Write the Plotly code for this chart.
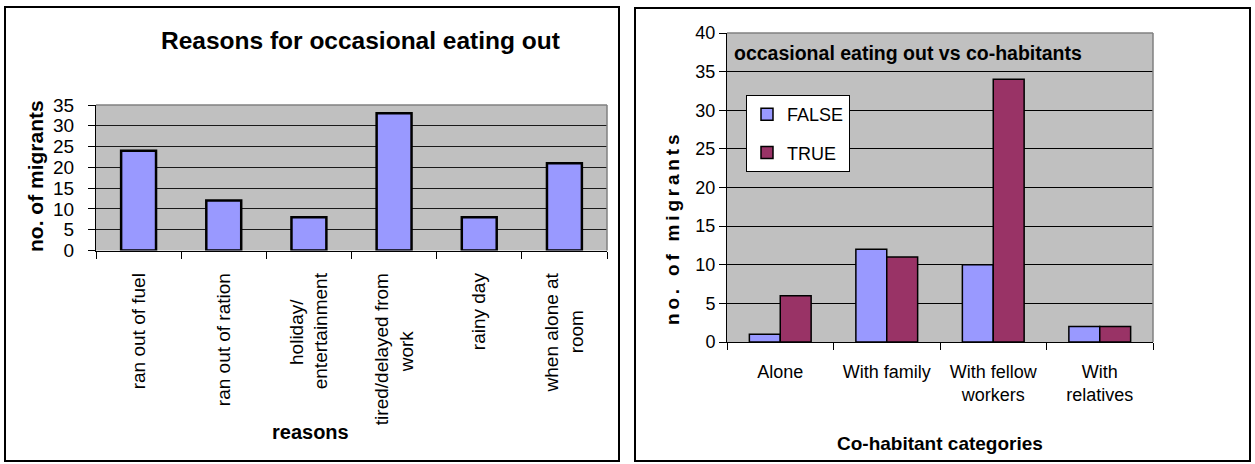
import plotly.graph_objects as go

W, H = 1255, 464

NB = "\u00a0"

# Left chart: reasons for occasional eating out
# (trailing no-break spaces centre the shorter line of a two-line label)
reasons = ["ran out of fuel", "ran out of ration",
           "holiday/" + NB * 5 + "<br>entertainment",
           "tired/delayed from<br>work" + NB * 11,
           "rainy day",
           "when alone at<br>room" + NB * 7]
reason_counts = [24, 12, 8, 33, 8, 21]

# Right chart: occasional eating out vs co-habitants
cohab = ["Alone", "With family", "With fellow<br>workers", "With<br>relatives"]
false_counts = [1, 12, 10, 2]
true_counts = [6, 11, 34, 2]

SANS = "Liberation Sans, Arial, sans-serif"
GRID = "#1a1a1a"


def px_x(v):
    return v / W


def px_y(v):
    return 1 - v / H


fig = go.Figure()

fig.add_trace(go.Bar(
    x=reasons, y=reason_counts, xaxis="x", yaxis="y",
    marker=dict(color="#9999FF", line=dict(color="black", width=2.5)),
    width=0.41, offset=-0.205, showlegend=False, name="reasons"))

fig.add_trace(go.Bar(
    x=cohab, y=false_counts, xaxis="x2", yaxis="y2", name="FALSE",
    marker=dict(color="#9999FF", line=dict(color="black", width=1.5)),
    width=0.29, offset=-0.29, legendgroup="f"))
fig.add_trace(go.Bar(
    x=cohab, y=true_counts, xaxis="x2", yaxis="y2", name="TRUE",
    marker=dict(color="#993366", line=dict(color="black", width=1.5)),
    width=0.29, offset=0.0, legendgroup="t"))

fig.update_layout(
    width=W, height=H,
    margin=dict(l=0, r=0, t=0, b=0, autoexpand=False),
    paper_bgcolor="white",
    plot_bgcolor="#C0C0C0",
    barmode="overlay",
    font=dict(family=SANS, color="black"),
    xaxis=dict(
        domain=[px_x(96), px_x(607)], anchor="y", automargin=False,
        tickson="boundaries", ticks="outside", ticklen=7, tickcolor="black",
        showline=True, linecolor="black", linewidth=1,
        showgrid=False, tickangle=-90, ticklabelstandoff=14,
        tickfont=dict(family=SANS, size=19),
    ),
    yaxis=dict(
        domain=[px_y(250.5), px_y(105)], anchor="x", automargin=False,
        range=[0, 35], dtick=5, ticks="outside", ticklen=7, tickcolor="black",
        showline=True, linecolor="black", linewidth=1,
        showgrid=True, gridcolor=GRID, gridwidth=1, zeroline=False,
        ticklabelstandoff=10,
        tickfont=dict(family=SANS, size=19),
    ),
    xaxis2=dict(
        domain=[px_x(727), px_x(1153)], anchor="y2", automargin=False,
        tickson="boundaries", ticks="outside", ticklen=7, tickcolor="black",
        showline=True, linecolor="black", linewidth=1,
        showgrid=False, tickangle=0, ticklabelstandoff=13,
        tickfont=dict(family=SANS, size=18),
    ),
    yaxis2=dict(
        domain=[px_y(342), px_y(33)], anchor="x2", automargin=False,
        range=[0, 40], dtick=5, ticks="outside", ticklen=7, tickcolor="black",
        showline=True, linecolor="black", linewidth=1,
        showgrid=True, gridcolor="black", gridwidth=1, zeroline=False,
        ticklabelstandoff=0,
        tickfont=dict(family=SANS, size=18),
    ),
    legend=dict(
        x=px_x(746), y=px_y(95), xanchor="left", yanchor="top",
        bgcolor="white", bordercolor="black", borderwidth=1,
        font=dict(family=SANS, size=18), tracegroupgap=12,
        itemwidth=30,
    ),
)

# plot-area outlines (top and right edges in grey)
for xa, ya in (("x", "y"), ("x2", "y2")):
    fig.add_shape(type="line", xref=f"{xa} domain", yref=f"{ya} domain",
                  x0=0, x1=1, y0=1, y1=1, line=dict(color="#808080", width=1.5))
    fig.add_shape(type="line", xref=f"{xa} domain", yref=f"{ya} domain",
                  x0=1, x1=1, y0=0, y1=1, line=dict(color="#808080", width=1.5))

# chart frames
fig.add_shape(type="rect", xref="paper", yref="paper",
              x0=px_x(5), x1=px_x(619), y0=px_y(461), y1=px_y(7),
              line=dict(color="black", width=2))
fig.add_shape(type="rect", xref="paper", yref="paper",
              x0=px_x(635), x1=px_x(1250), y0=px_y(461), y1=px_y(8),
              line=dict(color="black", width=2))


def label(text, x, y, size, angle=0, xanchor="center", xref="paper", yref="paper"):
    fig.add_annotation(text=text, textangle=angle, xref=xref, yref=yref,
                       x=x, y=y, xanchor=xanchor, yanchor="middle",
                       showarrow=False, font=dict(family=SANS, size=size))


# titles and axis labels
label("<b>Reasons for occasional eating out</b>", px_x(360), px_y(40), 24.5)
label("<b>no. of migrants</b>", px_x(35), px_y(176), 21, angle=-90)
label("<b>reasons</b>", px_x(310), px_y(432), 20)

label("<b>occasional eating out vs co-habitants</b>", 0.012, 0.935, 19.5,
      xanchor="left", xref="x2 domain", yref="y2 domain")
label("<b>" + "\u2009".join("no. of migrants") + "</b>", px_x(672), px_y(230), 19,
      angle=-90)
label("<b>Co-habitant categories</b>", px_x(940), px_y(443), 19)

fig.write_html("out.html")
